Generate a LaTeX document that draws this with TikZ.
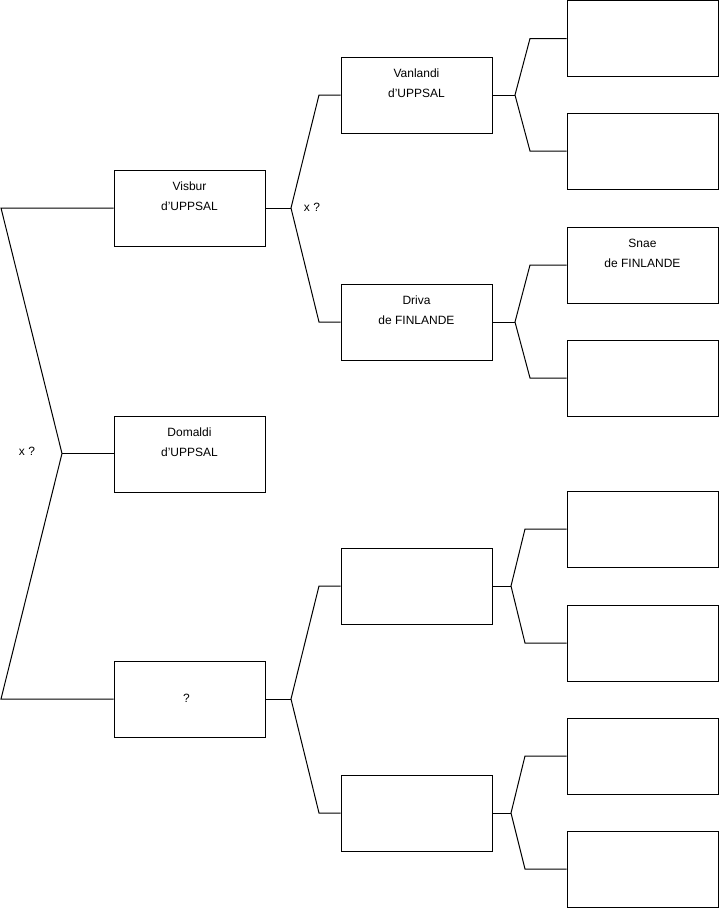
\documentclass[tikz,border=0pt]{standalone}
\usepackage{fontspec}
\setmainfont{Liberation Sans}
\newcommand{\apo}{\symbol{39}}
\begin{document}
\begin{tikzpicture}[x=1pt,y=-1pt,
  box/.style={draw=black,line width=1pt,minimum width=151pt,minimum height=76pt,inner sep=0pt},
  txt/.style={font=\fontsize{12pt}{20pt}\selectfont,align=center,inner sep=0pt},
  link/.style={draw=black,line width=1pt,line join=miter}]
\useasboundingbox (0,0) rectangle (719,908);
% level 1
\node[box] (vis) at (189.5,208) {};
\node[box] (dom) at (189.5,454) {};
\node[box] (q) at (189.5,699) {};
% level 2
\node[box] (van) at (416.5,95) {};
\node[box] (dri) at (416.5,322) {};
\node[box] (e2a) at (416.5,586) {};
\node[box] (e2b) at (416.5,813) {};
% level 3
\node[box] (r1) at (642.5,38.5) {};
\node[box] (r2) at (642.5,151) {};
\node[box] (r3) at (642.5,265) {};
\node[box] (r4) at (642.5,378) {};
\node[box] (r5) at (642.5,529) {};
\node[box] (r6) at (642.5,643) {};
\node[box] (r7) at (642.5,756) {};
\node[box] (r8) at (642.5,869) {};
% texts
\node[txt] (tvis) at (189.5,196) {Visbur\\d\apo UPPSAL};
\node[txt] (tdom) at (189.5,442) {Domaldi\\d\apo UPPSAL};
\node[txt] (tq) at (186.5,698) {?};
\node[txt] (tvan) at (416.5,83) {Vanlandi\\d\apo UPPSAL};
\node[txt] (tdri) at (416.5,310) {Driva\\de FINLANDE};
\node[txt] (tsna) at (642.5,253) {Snae\\de FINLANDE};
\node[txt] (x1) at (27,451) {x ?};
\node[txt] (x2) at (312,207) {x ?};
% left bracket
\coordinate (la) at (1,208);
\coordinate (lj) at (62,453.5);
\coordinate (lb) at (1,699);
\draw[link] (vis.west) -- (la) -- (lj) -- (lb) -- (q.west);
\draw[link] (lj) -- (dom.west |- lj);
% level 1 -> 2
\coordinate (j1) at (291,208);
\coordinate (c1a) at (319,95);
\coordinate (c1b) at (319,322);
\draw[link] (vis.east) -- (j1);
\draw[link] (van.west) -- (c1a) -- (j1) -- (c1b) -- (dri.west);
\coordinate (j2) at (291,699);
\coordinate (c2a) at (319,586);
\coordinate (c2b) at (319,813);
\draw[link] (q.east) -- (j2);
\draw[link] (e2a.west) -- (c2a) -- (j2) -- (c2b) -- (e2b.west);
% level 2 -> 3
\coordinate (j3) at (515,95);
\coordinate (c3a) at (530,38.5);
\coordinate (c3b) at (530,151);
\draw[link] (van.east) -- (j3);
\draw[link] (r1.west) -- (c3a) -- (j3) -- (c3b) -- (r2.west);
\coordinate (j4) at (515,322);
\coordinate (c4a) at (530,265);
\coordinate (c4b) at (530,378);
\draw[link] (dri.east) -- (j4);
\draw[link] (r3.west) -- (c4a) -- (j4) -- (c4b) -- (r4.west);
\coordinate (j5) at (511,586);
\coordinate (c5a) at (525,529);
\coordinate (c5b) at (525,643);
\draw[link] (e2a.east) -- (j5);
\draw[link] (r5.west) -- (c5a) -- (j5) -- (c5b) -- (r6.west);
\coordinate (j6) at (511,813);
\coordinate (c6a) at (525,756);
\coordinate (c6b) at (525,869);
\draw[link] (e2b.east) -- (j6);
\draw[link] (r7.west) -- (c6a) -- (j6) -- (c6b) -- (r8.west);
\end{tikzpicture}
\end{document}
